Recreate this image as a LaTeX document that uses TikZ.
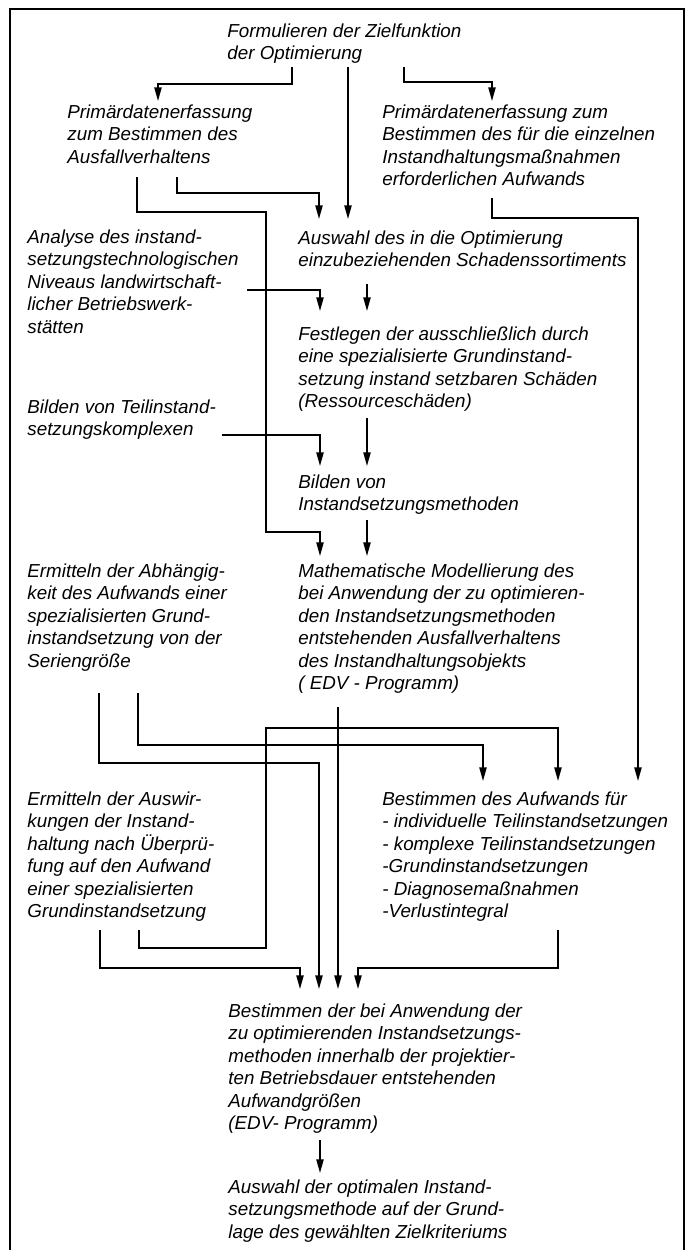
\documentclass[tikz,border=0pt]{standalone}
\usepackage{fontspec}
\setmainfont{Liberation Sans}
\usetikzlibrary{arrows.meta}
\newcommand\tfont{\fontsize{9.4pt}{11.25pt}\selectfont\itshape}
\begin{document}
\begin{tikzpicture}[x=0.5pt,y=-0.5pt,
  txt/.style={anchor=north west,inner sep=0pt,align=left,font=\tfont,execute at begin node=\rule{0pt}{7.5pt}},
  conn/.style={line width=0.8pt},
  arr/.style={conn,-{Triangle[length=6.8pt,width=3.6pt]}},
  framestyle/.style={line width=1.2pt}]
\useasboundingbox (0,0) rectangle (693,1250);
\draw[framestyle] (10,1250) -- (10,9) -- (684,9) -- (684,1250);

% texts
\node[txt] (ziel) at (227,23) {Formulieren der Zielfunktion\\der Optimierung};
\node[txt] (pl) at (67,104) {Primärdatenerfassung\\zum Bestimmen des\\Ausfallverhaltens};
\node[txt] (pr) at (382,104) {Primärdatenerfassung zum\\Bestimmen des für die einzelnen\\Instandhaltungsmaßnahmen\\erforderlichen Aufwands};
\node[txt] (ana) at (27,229) {Analyse des instand-\\setzungstechnologischen\\Niveaus landwirtschaft-\\licher Betriebswerk-\\stätten};
\node[txt] (ausw) at (298,230) {Auswahl des in die Optimierung\\einzubeziehenden Schadenssortiments};
\node[txt] (fest) at (298,326) {Festlegen der ausschließlich durch\\eine spezialisierte Grundinstand-\\setzung instand setzbaren Schäden\\(Ressourceschäden)};
\node[txt] (teil) at (27,399) {Bilden von Teilinstand-\\setzungskomplexen};
\node[txt] (bild) at (298,474) {Bilden von\\Instandsetzungsmethoden};
\node[txt] (abh) at (27,563) {Ermitteln der Abhängig-\\keit des Aufwands einer\\spezialisierten Grund-\\instandsetzung von der\\Seriengröße};
\node[txt] (math) at (298,563) {Mathematische Modellierung des\\bei Anwendung der zu optimieren-\\den Instandsetzungsmethoden\\entstehenden Ausfallverhaltens\\des Instandhaltungsobjekts\\( EDV - Programm)};
\node[txt] (awk) at (27,791) {Ermitteln der Auswir-\\kungen der Instand-\\haltung nach Überprü-\\fung auf den Aufwand\\einer spezialisierten\\Grundinstandsetzung};
\node[txt] (aufw) at (382,791) {Bestimmen des Aufwands für\\- individuelle Teilinstandsetzungen\\- komplexe Teilinstandsetzungen\\-Grundinstandsetzungen\\- Diagnosemaßnahmen\\-Verlustintegral};
\node[txt] (best) at (228,1003) {Bestimmen der bei Anwendung der\\zu optimierenden Instandsetzungs-\\methoden innerhalb der projektier-\\ten Betriebsdauer entstehenden\\Aufwandgrößen\\(EDV- Programm)};
\node[txt] (opt) at (228,1179) {Auswahl der optimalen Instand-\\setzungsmethode auf der Grund-\\lage des gewählten Zielkriteriums};

% connector end points
\coordinate (z1) at (292,67);  \coordinate (pl1) at (158,101);
\coordinate (z2) at (348,67);  \coordinate (au1) at (348,219);
\coordinate (z3) at (404,67);  \coordinate (pr1) at (492,101);
\coordinate (pla) at (177,177); \coordinate (au2) at (319,219);
\coordinate (plb) at (137,177); \coordinate (ma1) at (320,556);
\coordinate (pra) at (492,198); \coordinate (af1) at (638,781);
\coordinate (ana1) at (247,290); \coordinate (fe1) at (320,311);
\coordinate (au3) at (367,284); \coordinate (fe2) at (367,311);
\coordinate (te1) at (222,435); \coordinate (bi1) at (320,466);
\coordinate (fe3) at (367,418); \coordinate (bi2) at (367,466);
\coordinate (bi3) at (367,520); \coordinate (ma2) at (367,556);
\coordinate (ab1) at (99,693);  \coordinate (be1) at (319,989);
\coordinate (ab2) at (138,693); \coordinate (af2) at (483,781);
\coordinate (aw1) at (139,930); \coordinate (af3) at (558,781);
\coordinate (aw2) at (100,930); \coordinate (be2) at (300,989);
\coordinate (ma3) at (338,707); \coordinate (be3) at (338,989);
\coordinate (af4) at (558,930); \coordinate (be4) at (358,989);
\coordinate (be5) at (320,1140); \coordinate (op1) at (320,1173);

% connectors
\draw[arr] (z1) -- (292,84) -- (158,84) -- (pl1);
\draw[arr] (z2) -- (au1);
\draw[arr] (z3) -- (404,82) -- (492,82) -- (pr1);
\draw[arr] (pla) -- (177,193) -- (319,193) -- (au2);
\draw[arr] (plb) -- (137,212) -- (266,212) -- (266,532) -- (320,532) -- (ma1);
\draw[arr] (pra) -- (492,218) -- (638,218) -- (af1);
\draw[arr] (ana1) -- (320,290) -- (fe1);
\draw[arr] (au3) -- (fe2);
\draw[arr] (te1) -- (320,435) -- (bi1);
\draw[arr] (fe3) -- (bi2);
\draw[arr] (bi3) -- (ma2);
\draw[arr] (ab1) -- (99,763) -- (319,763) -- (be1);
\draw[arr] (ab2) -- (138,745) -- (483,745) -- (af2);
\draw[arr] (aw1) -- (139,948) -- (266,948) -- (266,728) -- (558,728) -- (af3);
\draw[arr] (aw2) -- (100,968) -- (300,968) -- (be2);
\draw[arr] (ma3) -- (be3);
\draw[arr] (af4) -- (558,968) -- (358,968) -- (be4);
\draw[arr] (be5) -- (op1);
\end{tikzpicture}
\end{document}
